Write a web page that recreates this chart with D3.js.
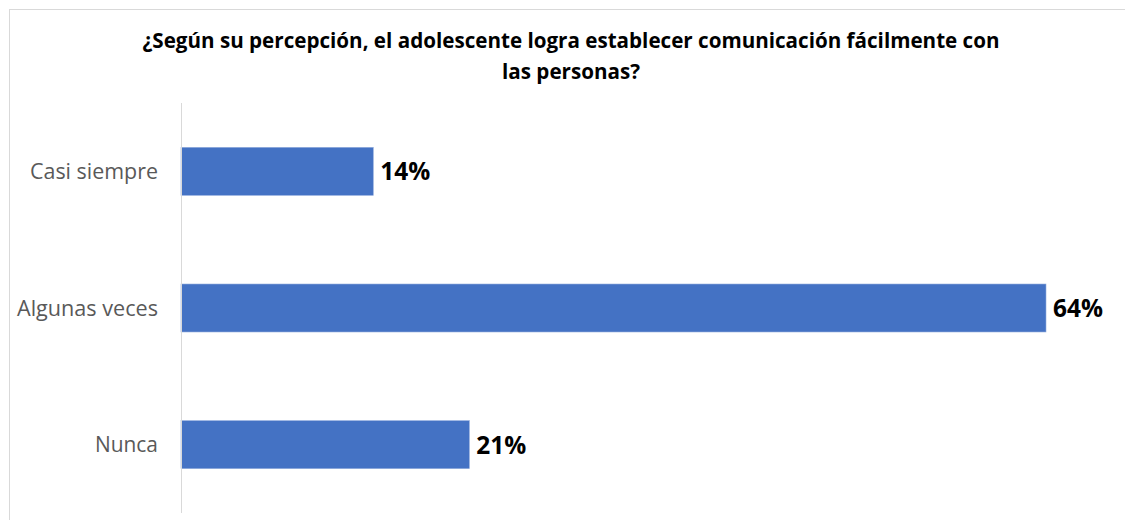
<!DOCTYPE html>
<html><head><meta charset="utf-8">
<script src="https://cdn.jsdelivr.net/npm/d3@7/dist/d3.min.js"></script>
<style>
html,body{margin:0;padding:0;background:#fff;}
svg{display:block;}
</style></head>
<body>
<script>
const titleLines = ["¿Según su percepción, el adolescente logra establecer comunicación fácilmente con", "las personas?"];
const categories = ["Casi siempre", "Algunas veces", "Nunca"];
const values = [14.29, 64.29, 21.43];
const labels = ["14%", "64%", "21%"];

const W = 1125, H = 520;
const svg = d3.select("body").append("svg").attr("width", W).attr("height", H);

// frame
svg.append("rect").attr("x", 9.5).attr("y", 9.5).attr("width", W + 10).attr("height", H + 10)
  .attr("fill", "#fff").attr("stroke", "#d9d9d9").attr("stroke-width", 1);

const x0 = 181, x1 = 1046, yTop = 103, yBot = 513;
const x = d3.scaleLinear().domain([0, d3.max(values)]).range([x0, x1]);
const y = d3.scaleBand().domain(categories).range([yTop, yBot]).paddingInner(0.649).paddingOuter(0.3245);

const fam = "'Open Sans',sans-serif";
// title
svg.append("text").attr("x", 571).attr("y", 48).attr("text-anchor", "middle")
  .attr("font-family", fam).attr("font-weight", "bold").attr("font-size", 21)
  .attr("fill", "#000").attr("textLength", 857).attr("lengthAdjust", "spacingAndGlyphs").text(titleLines[0]);
svg.append("text").attr("x", 571).attr("y", 79).attr("text-anchor", "middle")
  .attr("font-family", fam).attr("font-weight", "bold").attr("font-size", 21)
  .attr("fill", "#000").attr("textLength", 138).attr("lengthAdjust", "spacingAndGlyphs").text(titleLines[1]);

// bars
svg.selectAll("rect.bar").data(values).enter().append("rect").attr("class", "bar")
  .attr("x", x(0)).attr("y", (d, i) => y(categories[i]))
  .attr("width", d => x(d) - x(0)).attr("height", y.bandwidth())
  .attr("fill", "#4472C4").attr("stroke", "#8faadc").attr("stroke-width", 0.6);

// axis
const axis = d3.axisLeft(y).tickSize(0).tickPadding(23);
const g = svg.append("g").attr("transform", `translate(${x0},0)`).call(axis);
g.select(".domain").attr("stroke", "#d9d9d9").attr("stroke-width", 1).attr("d", `M0.5,${yTop}V${yBot}`);
const tickLen = {"Casi siempre": 128, "Algunas veces": 141, "Nunca": 63};
g.selectAll(".tick text").attr("font-family", fam).attr("font-size", 21)
  .attr("fill", "#595959").attr("dy", "0.36em")
  .each(function(d){
    d3.select(this).attr("textLength", tickLen[d]).attr("lengthAdjust", "spacingAndGlyphs");
  });

// value labels
svg.selectAll("text.val").data(values).enter().append("text").attr("class", "val")
  .attr("x", d => x(d) + 7).attr("y", (d, i) => y(categories[i]) + y.bandwidth() / 2)
  .attr("dy", "0.36em")
  .attr("font-family", fam).attr("font-weight", "bold").attr("font-size", 25)
  .attr("fill", "#000").attr("textLength", 50).attr("lengthAdjust", "spacingAndGlyphs")
  .text((d, i) => labels[i]);
</script>
</body></html>
